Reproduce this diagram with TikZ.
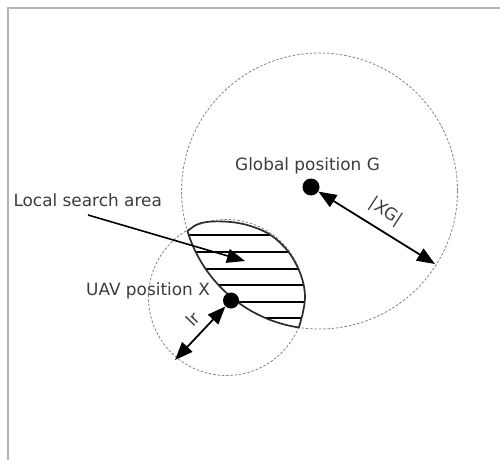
\documentclass[tikz,border=0pt]{standalone}
\usepackage{fontspec}
\setmainfont{DejaVu Sans}
\usetikzlibrary{arrows.meta}
\definecolor{framegray}{RGB}{180,180,180}
\definecolor{circgray}{RGB}{130,130,130}
\definecolor{lensgray}{RGB}{45,45,45}
\definecolor{txtgray}{RGB}{60,60,60}
\tikzset{
 lbl/.style={font=\fontsize{16.9}{18}\selectfont, text=txtgray, inner sep=0pt},
 dashcirc/.style={draw=circgray, line width=0.8pt, dash pattern=on 2.5pt off 1.8pt},
 ptdot/.style={circle, fill=black, minimum size=17pt, inner sep=0pt},
 dbl/.style={line width=1.8pt, {Triangle[length=18pt,width=14pt]}-{Triangle[length=18pt,width=14pt]}},
 single/.style={line width=1.6pt, -{Triangle[length=18pt,width=14pt]}},
 hatch/.style={line width=2pt, black},
 lensline/.style={draw=lensgray, line width=1.7pt}
}
\begin{document}
\begin{tikzpicture}[x=1pt,y=-1pt]
\useasboundingbox (0,0) rectangle (500,460);
\draw[framegray, line width=1.5pt] (8,460) -- (8,8) -- (500,8);
\draw[dashcirc] (319.5,191) circle[radius=138];
\draw[dashcirc] (226.5,297.5) circle[radius=78];
% hatched lens
\begin{scope}
\clip (187.5,231.3) -- plot[smooth,tension=0.6] coordinates {(187.5,231.3) (197,224.5) (212,221.5) (235,222.5) (255,227.5) (272,236) (287,250) (297,266) (303,282) (305,297) (303,312) (298.9,327.5)} arc[start angle=98.6, end angle=163, radius=138] -- cycle;
\foreach \yy in {235,252,268.5,285,302,318.3} \draw[hatch] (180,\yy) -- (310,\yy);
\end{scope}
\draw[lensline] (187.5,231.3) -- plot[smooth,tension=0.6] coordinates {(187.5,231.3) (197,224.5) (212,221.5) (235,222.5) (255,227.5) (272,236) (287,250) (297,266) (303,282) (305,297) (303,312) (298.9,327.5)} arc[start angle=98.6, end angle=163, radius=138] -- cycle;
% points
\node[ptdot] (G) at (311,187) {};
\node[ptdot, minimum size=16pt] (X) at (231,300.5) {};
% labels
\node[lbl, anchor=base west] (glab) at (235,170.7) {Global position G};
\node[lbl, anchor=base west] (llab) at (13.3,206) {Local search area};
\node[lbl, anchor=base west] (ulab) at (86,295) {UAV position X};
\node[lbl, rotate=-33] (xglab) at (386,212) {|XG|};
\node[lbl, rotate=46] (lrlab) at (193,319) {lr};
% arrows
\coordinate (lsaS) at (88,215);
\coordinate (lsaT) at (245,261);
\draw[single] (lsaS) -- (lsaT);
\coordinate (XGend) at (435,264);
\draw[dbl] (G) -- (XGend);
\coordinate (lrend) at (175,360);
\draw[dbl] (X) -- (lrend);
\end{tikzpicture}
\end{document}
